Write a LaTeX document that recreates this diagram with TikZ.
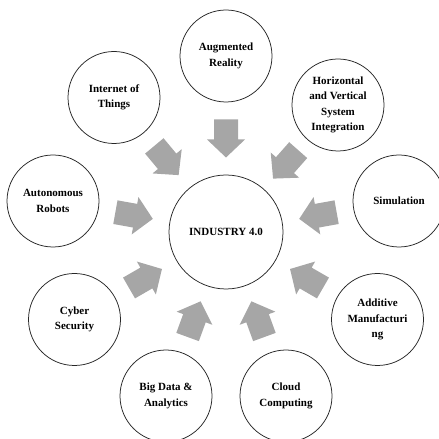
\documentclass[tikz,border=0pt]{standalone}
\usepackage{fontspec}
\setmainfont{Liberation Serif}
\usetikzlibrary{calc}
\definecolor{arrowgray}{HTML}{A6A6A6}
\begin{document}
\begin{tikzpicture}[x=1pt,y=1pt,
  topic/.style={circle, draw=black!85, line width=0.75pt, fill=white,
    minimum size=92pt, inner sep=0pt, align=center,
    font=\fontsize{11}{15.5}\selectfont\bfseries},
  hubnode/.style={topic, minimum size=114pt},
  blockarrow/.style={fill=arrowgray}]
\useasboundingbox (0,0) rectangle (439,439);
\clip (0,0) rectangle (439,439);

% central hub
\node[hubnode] (hub) at (226,207) {INDUSTRY 4.0};

% surrounding technologies
\node[topic] (aug) at (226,383)   {Augmented\\Reality};
\node[topic] (iot) at (114,341.5) {Internet of\\Things};
\node[topic] (hvi) at (338,334)   {Horizontal\\and Vertical\\System\\Integration};
\node[topic] (sim) at (399,238)   {Simulation};
\node[topic] (aut) at (53,238)    {Autonomous\\Robots};
\node[topic] (cyb) at (74.5,119.5) {Cyber\\Security};
\node[topic] (add) at (377.5,119.5) {Additive\\Manufacturi\\ng};
\node[topic] (big) at (166,43)    {Big Data \&\\Analytics};
\node[topic] (cld) at (286,43)    {Cloud\\Computing};

% block arrows pointing from each technology towards the hub
\foreach \k in {aug,iot,hvi,sim,aut,cyb,add,big,cld}{
  \fill[blockarrow]
    let \p1=($(hub.center)-(\k.center)$), \n1={atan2(\y1,\x1)} in
    [shift={($(\k.center)!.5!(hub.center)!-5.5pt!(hub.center)$)}, rotate=\n1]
    (-19,-12) -- (1,-12) -- (1,-19) -- (19,0) -- (1,19) -- (1,12) -- (-19,12) -- cycle;
}
\end{tikzpicture}
\end{document}
